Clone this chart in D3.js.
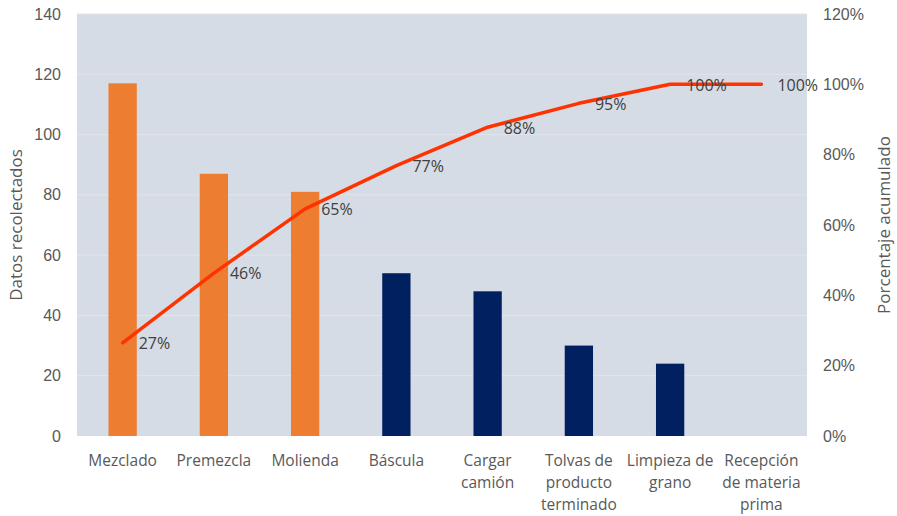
<!DOCTYPE html>
<html>
<head>
<meta charset="utf-8">
<script src="https://cdn.jsdelivr.net/npm/d3@7"></script>
<style>
  html, body { margin: 0; padding: 0; background: #ffffff; }
  svg { display: block; font-family: "Open Sans", "Liberation Sans", sans-serif; }
</style>
</head>
<body>
<svg id="chart" width="897" height="516"></svg>
<script>
// Pareto data: collected counts per process stage and cumulative share
const categories = [
  ["Mezclado"],
  ["Premezcla"],
  ["Molienda"],
  ["Báscula"],
  ["Cargar", "camión"],
  ["Tolvas de", "producto", "terminado"],
  ["Limpieza de", "grano"],
  ["Recepción", "de materia", "prima"]
];
const counts = [117, 87, 81, 54, 48, 30, 24, 0];
const cumulativePct = [26.5, 46.3, 64.6, 76.9, 87.8, 94.6, 100, 100];
const cumulativeLabels = ["27%", "46%", "65%", "77%", "88%", "95%", "100%", "100%"];
const leftTicks = [0, 20, 40, 60, 80, 100, 120, 140];
const rightTicks = [0, 20, 40, 60, 80, 100, 120];
const vitalFew = 3; // first stages highlighted

const svg = d3.select("#chart");
const plot = { left: 77, right: 807, top: 14, bottom: 436 };

const x = d3.scaleBand()
  .domain(d3.range(categories.length))
  .range([plot.left, plot.right])
  .paddingInner(0.69)
  .paddingOuter(0.345);

const yL = d3.scaleLinear().domain([0, 140]).range([plot.bottom, plot.top]);
const yR = d3.scaleLinear().domain([0, 120]).range([plot.bottom, plot.top]);

// plot background
svg.append("rect")
  .attr("x", plot.left).attr("y", plot.top)
  .attr("width", plot.right - plot.left).attr("height", plot.bottom - plot.top)
  .attr("fill", "#D6DCE5");

// gridlines
svg.append("g")
  .selectAll("line")
  .data(leftTicks.slice(1))
  .join("line")
  .attr("x1", plot.left).attr("x2", plot.right)
  .attr("y1", d => yL(d)).attr("y2", d => yL(d))
  .attr("stroke", "#E2E5EA").attr("stroke-width", 1);

// bars
svg.append("g")
  .selectAll("rect")
  .data(counts)
  .join("rect")
  .attr("x", (d, i) => x(i))
  .attr("y", d => yL(d))
  .attr("width", x.bandwidth())
  .attr("height", d => plot.bottom - yL(d))
  .attr("fill", (d, i) => i < vitalFew ? "#ED7D31" : "#002060");

// left axis
const leftAxis = svg.append("g")
  .attr("transform", `translate(${plot.left},0)`)
  .call(d3.axisLeft(yL).tickValues(leftTicks).tickSize(0).tickPadding(16));
leftAxis.select(".domain").remove();
leftAxis.selectAll("text")
  .attr("fill", "#595959").attr("font-size", 16);

// right axis
const rightAxis = svg.append("g")
  .attr("transform", `translate(${plot.right},0)`)
  .call(d3.axisRight(yR).tickValues(rightTicks).tickSize(0).tickPadding(16)
    .tickFormat(d => d + "%"));
rightAxis.select(".domain").remove();
rightAxis.selectAll("text")
  .attr("fill", "#595959").attr("font-size", 16);

// category labels
const catG = svg.append("g");
categories.forEach((lines, i) => {
  const t = catG.append("text")
    .attr("x", x(i) + x.bandwidth() / 2)
    .attr("y", 466)
    .attr("text-anchor", "middle")
    .attr("fill", "#595959")
    .attr("font-size", 15.5);
  lines.forEach((ln, j) => {
    t.append("tspan")
      .attr("x", x(i) + x.bandwidth() / 2)
      .attr("dy", j === 0 ? 0 : 22)
      .text(ln);
  });
});

// cumulative line
const line = d3.line()
  .x((d, i) => x(i) + x.bandwidth() / 2)
  .y(d => yR(d));
svg.append("path")
  .datum(cumulativePct)
  .attr("d", line)
  .attr("fill", "none")
  .attr("stroke", "#FF3300")
  .attr("stroke-width", 3.5)
  .attr("stroke-linecap", "round")
  .attr("stroke-linejoin", "round");

// cumulative labels
svg.append("g")
  .selectAll("text")
  .data(cumulativePct)
  .join("text")
  .attr("x", (d, i) => x(i) + x.bandwidth() / 2 + 16)
  .attr("y", d => yR(d) + 2)
  .attr("dominant-baseline", "middle")
  .attr("fill", "#404040")
  .attr("font-size", 16)
  .text((d, i) => cumulativeLabels[i]);

// axis titles
svg.append("text")
  .attr("transform", "translate(22,225) rotate(-90)")
  .attr("text-anchor", "middle")
  .attr("fill", "#595959")
  .attr("font-size", 17)
  .text("Datos recolectados");

svg.append("text")
  .attr("transform", "translate(890,225) rotate(-90)")
  .attr("text-anchor", "middle")
  .attr("fill", "#595959")
  .attr("font-size", 17)
  .text("Porcentaje acumulado");
</script>
</body>
</html>
